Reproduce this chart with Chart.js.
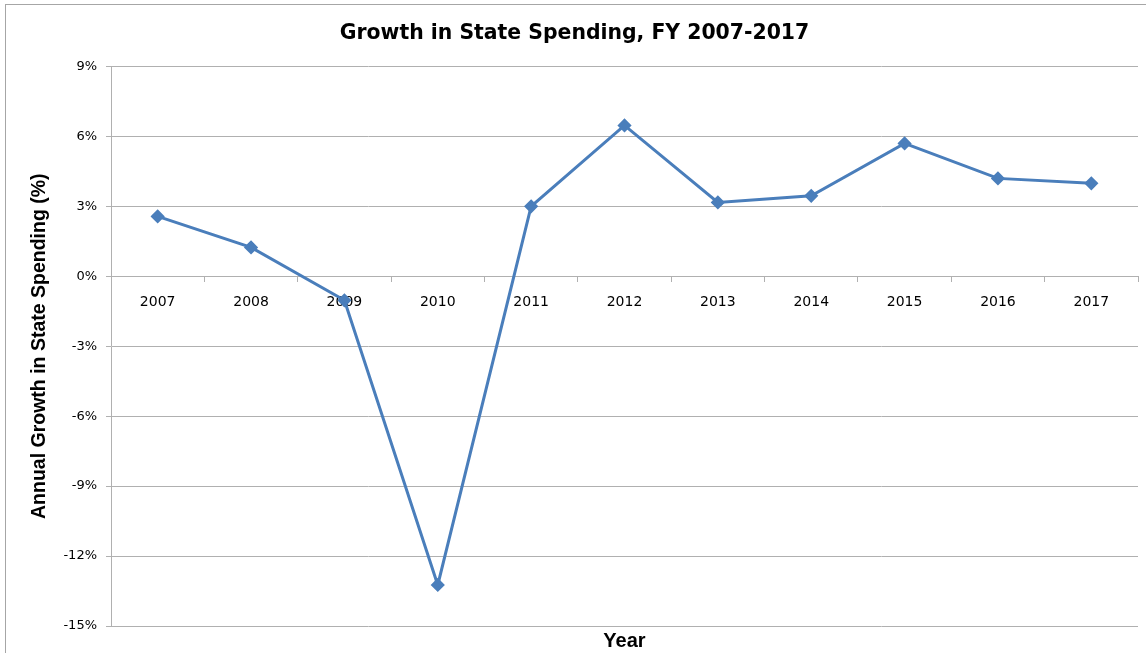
<!DOCTYPE html>
<html>
<head>
<meta charset="utf-8">
<script src="https://cdn.jsdelivr.net/npm/chart.js@4.4.1/dist/chart.umd.min.js"></script>
<style>
  body { margin: 0; background: #fff; overflow: hidden; }
  #wrap { position: relative; width: 1146px; height: 653px; }
  #frame { position: absolute; left: 5px; top: 4px; width: 1200px; height: 700px;
           border-top: 1px solid #a6a6a6; border-left: 1px solid #a6a6a6; pointer-events: none; }
</style>
</head>
<body>
<div id="wrap">
  <canvas id="chart" width="1146" height="653"></canvas>
  <div id="frame"></div>
</div>
<script>
// chart data
const years = ['2007', '2008', '2009', '2010', '2011', '2012', '2013', '2014', '2015', '2016', '2017'];
const growth = [2.57, 1.24, -1.03, -13.24, 3.0, 6.47, 3.17, 3.45, 5.7, 4.2, 3.99];
const yMin = -15;
const yMax = 9;
const yStep = 3;

const gridColor = '#b0b0b0';
const lineColor = '#4a7ebb';

const ctx = document.getElementById('chart').getContext('2d');

new Chart(ctx, {
    type: 'line',
    data: {
        labels: years,
        datasets: [{
            label: 'Annual Growth',
            data: growth,
            borderColor: lineColor,
            backgroundColor: lineColor,
            borderWidth: 3,
            pointStyle: 'rectRot',
            pointRadius: 5,
            pointHoverRadius: 5,
            tension: 0
        }]
    },
    options: {
        responsive: false,
        animation: false,
        layout: {
            padding: { left: 8, right: 5, top: 0, bottom: 0 }
        },
        plugins: {
            legend: { display: false },
            tooltip: { enabled: false },
            title: {
                display: true,
                text: 'Growth in State Spending, FY 2007-2017',
                color: '#000',
                font: { family: 'DejaVu Sans', size: 20.4, weight: 'bold', lineHeight: 1.2 },
                padding: { top: 21, bottom: 21 }
            }
        },
        scales: {
            x: {
                type: 'category',
                offset: true,
                position: { y: 0 },
                grid: {
                    drawOnChartArea: false,
                    drawTicks: true,
                    tickLength: 5,
                    offset: true,
                    color: gridColor
                },
                border: { display: true, color: gridColor },
                ticks: {
                    color: '#000',
                    padding: 13,
                    maxRotation: 0,
                    font: { family: 'DejaVu Sans', size: 14 }
                }
            },
            x2: {
                type: 'category',
                position: 'bottom',
                labels: years,
                grid: { display: false },
                border: { display: false },
                ticks: { display: false },
                title: {
                    display: true,
                    text: 'Year',
                    color: '#000',
                    font: { family: 'Liberation Sans', size: 20, weight: 'bold', lineHeight: 1.2 },
                    padding: { top: 0, bottom: 0 }
                },
                afterFit: function(scale) {
                    scale.height = 27;
                }
            },
            y: {
                min: yMin,
                max: yMax,
                ticks: {
                    stepSize: yStep,
                    color: '#000',
                    padding: 9,
                    font: { family: 'DejaVu Sans', size: 13 },
                    callback: function(value) {
                        return value + '%';
                    }
                },
                grid: {
                    color: gridColor,
                    drawTicks: true,
                    tickLength: 5
                },
                border: { display: true, color: gridColor },
                title: {
                    display: true,
                    text: 'Annual Growth in State Spending (%)',
                    color: '#000',
                    font: { family: 'Liberation Sans', size: 19.5, weight: 'bold', lineHeight: 1.2 },
                    padding: { top: 20, bottom: 0 }
                },
                afterFit: function(scale) {
                    scale.width = 103;
                }
            }
        }
    }
});
</script>
</body>
</html>
